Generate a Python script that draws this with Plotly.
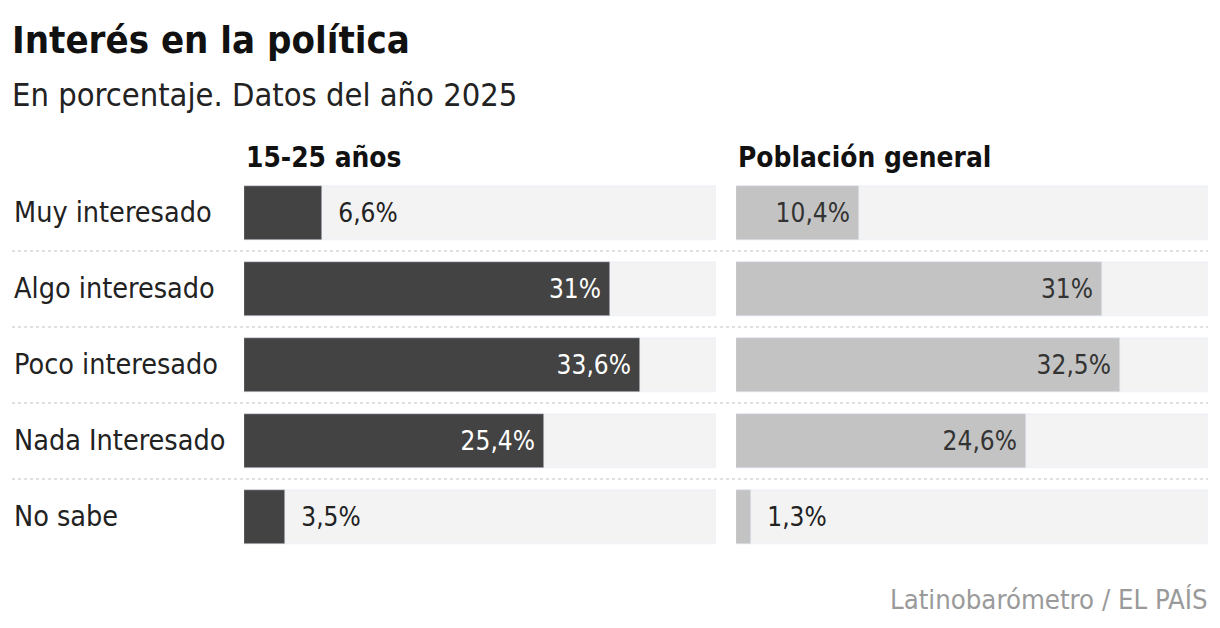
import plotly.graph_objects as go

# Interés en la política, Latinobarómetro 2025
categorias = ['Muy interesado', 'Algo interesado', 'Poco interesado', 'Nada Interesado', 'No sabe']
jovenes = [6.6, 31, 33.6, 25.4, 3.5]
general = [10.4, 31, 32.5, 24.6, 1.3]
paneles = ['15-25 años', 'Población general']
escala_max = 40

# la página deja 8px de margen alrededor de la figura
OFF = 8
W, H = 1220 - 2 * OFF, 628 - 2 * OFF
FONT = 'Liberation Sans Narrow, DejaVu Sans Condensed, Roboto, sans-serif'


def px_x(p):
    return (p - OFF) / W


def px_y(p):
    return 1 - (p - OFF) / H


def etiqueta(v):
    s = ('%.1f' % v).rstrip('0').rstrip('.').replace('.', ',')
    return s + '%'


fig = go.Figure()

series = [
    (jovenes, 'x', 'y', '#434343', 'white'),
    (general, 'x2', 'y2', '#c3c3c3', '#333333'),
]
umbral = 8
for valores, xa, ya, color, color_dentro in series:
    # fondo gris claro hasta el máximo de la escala
    fig.add_trace(go.Bar(
        y=categorias, x=[escala_max] * len(categorias), orientation='h',
        xaxis=xa, yaxis=ya, marker_color='#f3f3f3', width=0.71,
        hoverinfo='skip', showlegend=False,
    ))
    textos = []
    posiciones = []
    for v in valores:
        if v >= umbral:
            textos.append(etiqueta(v) + '\u2005')
            posiciones.append('inside')
        else:
            textos.append('\u2004\u2005' + etiqueta(v))
            posiciones.append('outside')
    fig.add_trace(go.Bar(
        y=categorias, x=valores, orientation='h',
        xaxis=xa, yaxis=ya, marker_color=color, width=0.71,
        text=textos, textposition=posiciones, insidetextanchor='end',
        insidetextfont=dict(color=color_dentro, size=26, family=FONT),
        outsidetextfont=dict(color='#222222', size=26, family=FONT),
        cliponaxis=False, showlegend=False,
        hovertemplate='%{y}: %{x}%<extra></extra>',
    ))

ejes_y = dict(
    type='category', categoryorder='array', categoryarray=categorias,
    range=[4.5, -0.5], showticklabels=False, showgrid=False, zeroline=False,
    domain=[px_y(555), px_y(175)], fixedrange=True,
)
ejes_x = dict(range=[0, escala_max], showticklabels=False, showgrid=False,
              zeroline=False, fixedrange=True)

fig.update_layout(
    width=W, height=H,
    margin=dict(l=0, r=0, t=0, b=0),
    paper_bgcolor='white', plot_bgcolor='white',
    barmode='overlay', bargap=0,
    font=dict(family=FONT, color='#222222'),
    xaxis=dict(ejes_x, domain=[px_x(244), px_x(716)], anchor='y'),
    xaxis2=dict(ejes_x, domain=[px_x(736), px_x(1208)], anchor='y2'),
    yaxis=dict(ejes_y, anchor='x'),
    yaxis2=dict(ejes_y, anchor='x2'),
)

# separadores punteados entre filas
for i in range(len(categorias) - 1):
    fig.add_shape(type='line', xref='paper', yref='y',
                  x0=px_x(12), x1=px_x(1208), y0=i + 0.5, y1=i + 0.5,
                  line=dict(color='#d6d6d6', width=1.5, dash='dot'))

# etiquetas de categoría
for c in categorias:
    fig.add_annotation(x=px_x(12), y=c, xref='paper', yref='y', text=c,
                       showarrow=False, xanchor='left', yanchor='middle',
                       font=dict(size=28.5, family=FONT, color='#222222'))

# cabeceras de panel
for nombre, x0 in zip(paneles, [244, 736]):
    fig.add_annotation(x=px_x(x0), y=px_y(157), xref='paper', yref='paper',
                       text='<b>%s</b>' % nombre, showarrow=False,
                       xanchor='left', yanchor='middle',
                       font=dict(size=27.8, family=FONT, color='#111111'))

fig.add_annotation(x=px_x(10), y=px_y(40), xref='paper', yref='paper',
                   text='<b>Interés en la política</b>', showarrow=False,
                   xanchor='left', yanchor='middle',
                   font=dict(size=38, family=FONT, color='#111111'))
fig.add_annotation(x=px_x(10), y=px_y(95), xref='paper', yref='paper',
                   text='En porcentaje. Datos del año 2025', showarrow=False,
                   xanchor='left', yanchor='middle',
                   font=dict(size=32.4, family=FONT, color='#222222'))
fig.add_annotation(x=px_x(1210), y=px_y(599), xref='paper', yref='paper',
                   text='Latinobarómetro / EL PAÍS', showarrow=False,
                   xanchor='right', yanchor='middle',
                   font=dict(size=27.3, family=FONT, color='#9a9a9a'))

fig.write_html('out.html')
